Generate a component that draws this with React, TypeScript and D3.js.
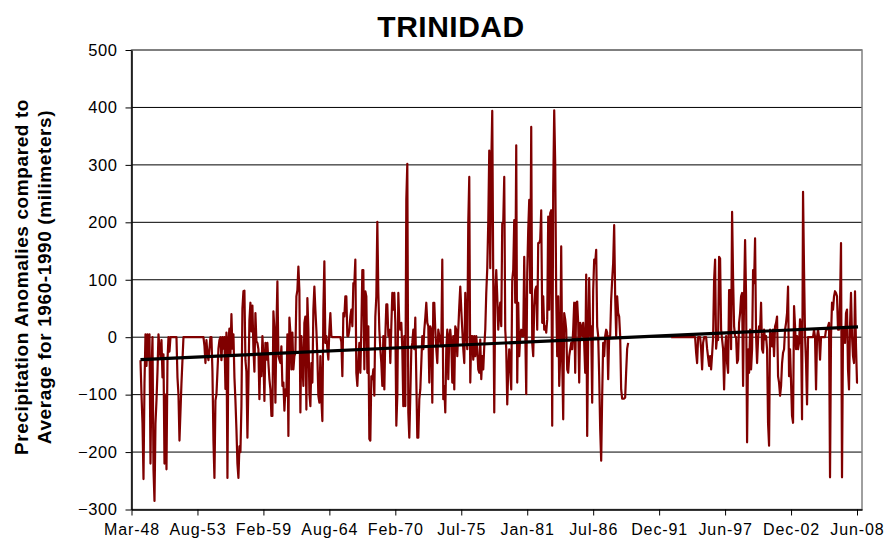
import React, { useEffect, useRef } from "react";
import * as d3 from "d3";

// Trinidad monthly precipitation anomalies, compared to the 1960-1990 average (mm)
const chartTitle = "TRINIDAD";
const yTitleLines = ["Precipitation Anomalies compared to", "Average for 1960-1990 (milimeters)"];
const xTickLabels = ["Mar-48", "Aug-53", "Feb-59", "Aug-64", "Feb-70", "Jul-75", "Jan-81", "Jul-86", "Dec-91", "Jun-97", "Dec-02", "Jun-08"];
const labelEvery = 66; // categories between two labels
const monthCount = 731;
const yTicks = [-300, -200, -100, 0, 100, 200, 300, 400, 500];

// first run of records starts at month index 9
const run1Start = 9;
const anomalies1948 = [
  -40, -100, -150, -247, -80, 5, -50, 5, -40, 5, -220, -60, 0, -230, -285, -150, -110, -60, 5, -20,
  -35, -5, -70, -30, -220, -100, -230, -40, 0, -25, 0, 0, 0, 0, 0, 0, 0, -70, -100, -180,
  -130, -80, -40, 0, 0, 0, 0, 0, 0, 0, 0, 0, 0, 0, 0, 0, 0, 0, 0, 0,
  0, 0, 0, 0, -15, -45, -5, -30, -40, -20, 0, 0, -60, -180, -245, -110, -100, -60, -20, -5,
  0, -40, 0, -20, 0, -90, 8, -245, -5, 15, -30, 40, -20, 5, -70, -110, -160, -220, -245, -190,
  -200, -120, 50, 80, 81, -40, -60, -175, -80, 30, 60, 10, 55, -20, -60,
];
const anomalies1958 = [
  42, -7, -10, -21, -108, -30, -68, 2, -33, -111, -10, -39, -10, -45, -73, -91, -137, -137, 45, 13,
  -114, 13, 97, -33, -39, -45, -16, -85, -79, -128, -91, -102, 5, -172, 34, 8, -56, 8, -56, -33,
  -27, 71, 82, 123, 82, -131, 2, -45, -85, 25, 36, -126, 68, 13, -97, -120, -45, -79, 48, 88,
  48, 13, -33, -102, -114, -33, -108, -146, 48, 132, -10, 2, -21, -39, 13, 42, 2, 0, 0, 0,
  0, 0, 0, 0, 0, 0, -8, -68, 42, 36, 71, 71, 2, 2, 13, 36, 48, 19, 94, 94,
  135, -62, -85, -45, -10, -62, 13, 117, 117, -56, 80, 71, -62, 19, -177, -180, -68, -73, -56, -102,
  36, 71, 201,
];
const anomalies1968 = [
  77, 13, -21, -45, -85, 2, -91, 2, 57, 57, 2, 13, -45, 19, 77, 48, 77, 25, -154, -102,
  77, 25, 13, 25, -21, -120, 2, -120, 240, 302, -131, -175, -102, -21, -10, 13, -21, 34, -73, -175,
  -175, -108, -91, -45, 2, -21, 13, 34, 60, 25, 19, -79, 19, 13, -114, 60, 60, 13, -21, -45,
  13, 2, -10, -16, 135, -108, -85, -131, -21, 13, -73, 2, 13, -10, -79, 2, -91, 19, 13, -33,
  13, 54, 88, 48, 13, -21, -45, 77, 13, -21, 200, 279, -79, 2, 2, -39, 2, -33, 2, -21,
  -56, -62, -4, -73, -33, -56, -16, 13, 77, 120, 200, 325, 120, 300, 394, 100, -131, 77, 117, 71,
  13, 42,
];
const anomalies1978 = [
  60, 19, 198, 200, 279, 13, -21, -117, -56, -21, -56, -91, 100, 117, 204, 60, 334, -79, 60, -33,
  2, 13, 2, 2, 140, 13, -99, 111, 187, 239, 77, 366, -10, -33, 54, 82, 88, 13, 164, 164,
  170, 221, 25, 71, 13, 19, 8, 31, 210, 48, 216, 221, -154, 259, 395, 302, 71, -33, 71, -85,
  -33, 158, -39, -143, 42, 31, 13, -56, -62, -33, -21, -10, -21, 13, 60, -62, 60, 62, 25, -79,
  25, 19, 2, 25, -10, -62, 109, -172, 2, 103, 2, 19, -114, 82, 135, 129, 152, 19, 2, -68,
  -160, -215, -102, -10, -33, 2, 13, 8, -73, 2, 2, 65, 100, 129, 195, 71, 2, 71, 42, 36,
  2, -91,
];
const anomalies1988 = [-107, -107, -107, -105, -60, -20, -10];

// records resume after the gap at month index 540
const run2Start = 540;
const anomalies1993 = [
  0, 0, 0, 0, 0, 0, 0, 0, 0, 0, 0, 0, 0, 0, 0, 0, 0, 0, 0, 0, 0, 0, 0, 0, 0,
  -27, -45, 0, 0, 0, -20, -56, -10, 0, 0, 0, -20, -35, -50, -33, -56, -30, 0, 100, 135,
  -20, 0, -5, 140, 137, 13, -4, -21, -91, -21, 2, -45, -62, 82, 82, -21, 218, 102, 19, 2,
  0, -45, -39, 25, 42, 71, 77,
];
const anomalies2000 = [
  -85, 71, 169, 71, -183, -21, -62, 13, -56, -21, 117, 94, 172, 2, -45, -4, 19, 13, 60, -21,
  -27, 13, -4, 2, -21, -150, -189, 13, 2, -16, 13, -33, 19, 25, 36, -68, -79, -102, -85, -45,
  -27, -21, 13, 25, 42, 88, -68, -21, -79, -137, -149, 54, 19, -21, 2, -21, -10, 31, 13, -143,
  253, 117, 2, -45, -117, 0, 0, 0, 0, 0, 0, 13, 0, -91, 0, 13, 0, -39, 0, 0,
  0, 0, 0, 13, 13, 19, 25, -244, 2, 60, 48, 71, 80, 77, 71, 13, 13, 60, 164, -244,
  13, 13, -10, 42, 48, -56, -91, 19, 77, 2, -33, -45, 80, -16, -79, -79,
];

// linear trend as drawn: value at first and last record
const trendStartValue = -39;
const trendEndValue = 18;

const W = 886;
const H = 544;
const margin = { top: 50, right: 24, bottom: 34.5, left: 131.5 };
const font = "'Liberation Sans', Arial, Helvetica, sans-serif";

export default function App() {
  const ref = useRef<SVGSVGElement>(null);

  useEffect(() => {
    const svg = d3.select(ref.current);
    svg.selectAll("*").remove();

    const x = d3.scaleLinear().domain([0, monthCount]).range([margin.left, W - margin.right]);
    const y = d3.scaleLinear().domain([-300, 500]).range([H - margin.bottom, margin.top]);

    const run1 = [...anomalies1948, ...anomalies1958, ...anomalies1968, ...anomalies1978, ...anomalies1988];
    const run2 = [...anomalies1993, ...anomalies2000];
    const pts1: [number, number][] = run1.map((v, k) => [run1Start + k, v]);
    const pts2: [number, number][] = run2.map((v, k) => [run2Start + k, v]);
    const lastIndex = run2Start + run2.length - 1;

    // gridlines
    svg.append("g")
      .selectAll("line")
      .data(yTicks.filter(t => t > -300))
      .join("line")
      .attr("x1", x(0))
      .attr("x2", x(monthCount))
      .attr("y1", d => y(d))
      .attr("y2", d => y(d))
      .attr("stroke", "#000")
      .attr("stroke-width", 1);

    // plot area border
    svg.append("rect")
      .attr("x", x(0))
      .attr("y", y(500))
      .attr("width", x(monthCount) - x(0))
      .attr("height", y(-300) - y(500))
      .attr("fill", "none")
      .attr("stroke", "#808080")
      .attr("stroke-width", 1.5);

    const line = d3.line<[number, number]>()
      .x(d => x(d[0]))
      .y(d => y(d[1]));

    [pts1, pts2].forEach(pts => {
      svg.append("path")
        .datum(pts)
        .attr("d", line)
        .attr("fill", "none")
        .attr("stroke", "#800000")
        .attr("stroke-width", 2.2)
        .attr("stroke-linejoin", "round");
    });

    // trend line
    svg.append("path")
      .datum([[run1Start, trendStartValue], [lastIndex, trendEndValue]] as [number, number][])
      .attr("d", line)
      .attr("fill", "none")
      .attr("stroke", "#000")
      .attr("stroke-width", 3.2);

    // Y Axis
    const yAxis = svg.append("g")
      .attr("transform", `translate(${x(0)},0)`)
      .call(d3.axisLeft(y).tickValues(yTicks).tickSize(6).tickSizeOuter(0).tickPadding(8));
    yAxis.select(".domain").attr("stroke", "#000").attr("stroke-width", 1.5);
    yAxis.selectAll(".tick line").attr("stroke", "#000");
    yAxis.selectAll(".tick text")
      .attr("fill", "#000")
      .style("font-family", font)
      .style("font-size", "16.5px")
      .style("letter-spacing", "0.6px");

    // X Axis
    const xAxis = svg.append("g")
      .attr("transform", `translate(0,${y(-300)})`)
      .call(
        d3.axisBottom(x)
          .tickValues(xTickLabels.map((_, i) => i * labelEvery))
          .tickFormat((_, i) => xTickLabels[i])
          .tickSize(6)
          .tickSizeOuter(0)
          .tickPadding(8)
      );
    xAxis.select(".domain").attr("stroke", "#000").attr("stroke-width", 1.5);
    xAxis.selectAll(".tick line").attr("stroke", "#000");
    xAxis.selectAll(".tick text")
      .attr("fill", "#000")
      .style("font-family", font)
      .style("font-size", "16px")
      .style("letter-spacing", "0.9px");

    // title
    svg.append("text")
      .attr("x", 451)
      .attr("y", 37)
      .attr("text-anchor", "middle")
      .style("font-family", font)
      .style("font-weight", "bold")
      .style("font-size", "30px")
      .style("letter-spacing", "0.5px")
      .text(chartTitle);

    // y title, two lines
    yTitleLines.forEach((t, i) => {
      svg.append("text")
        .attr("transform", `translate(${21 + i * 23},277) rotate(-90)`)
        .attr("dy", "0.35em")
        .attr("text-anchor", "middle")
        .style("font-family", font)
        .style("font-weight", "bold")
        .style("font-size", "19px")
        .style("letter-spacing", "0.6px")
        .text(t);
    });
  }, []);

  return (
    <svg
      ref={ref}
      width={W}
      height={H}
      style={{ position: "absolute", left: 0, top: 0, background: "#fff" }}
    />
  );
}
